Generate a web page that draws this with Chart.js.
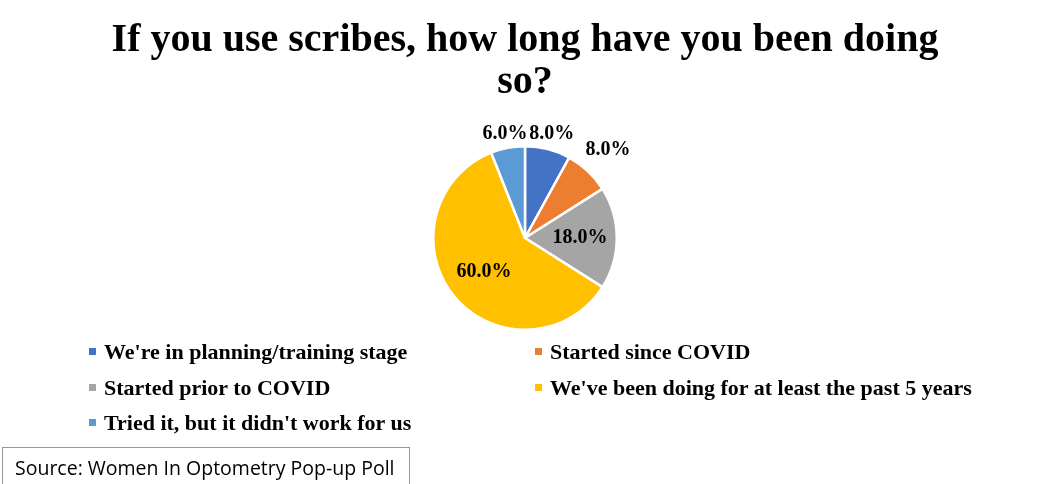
<!DOCTYPE html>
<html>
<head>
<meta charset="utf-8">
<script src="https://cdn.jsdelivr.net/npm/chart.js@4.4.1/dist/chart.umd.min.js"></script>
<style>
  html, body { margin: 0; padding: 0; background: #fff; }
  #wrap { position: relative; width: 1048px; height: 484px; overflow: hidden; }
  #legend { position: absolute; left: 0; top: 0; width: 1048px; height: 484px; pointer-events: none; }
  .item { position: absolute; font: bold 22px "Liberation Serif", "Times New Roman", serif; color: #000; white-space: nowrap; line-height: 24px; }
  .item i { position: absolute; left: -15px; top: 8px; width: 7px; height: 7px; }
  #source { position: absolute; left: 2px; top: 447px; width: 408px; height: 40px; border: 1px solid #999; box-sizing: border-box;
            font: 19.5px "Open Sans", sans-serif; padding-left: 12px; line-height: 40px; color: #000; }
</style>
</head>
<body>
<div id="wrap">
  <canvas id="pie" width="1048" height="484"></canvas>
  <div id="legend"></div>
  <div id="source">Source: Women In Optometry Pop-up Poll</div>
</div>
<script>
// chart data
const titleLines = ['If you use scribes, how long have you been doing', 'so?'];
const categories = [
    "We're in planning/training stage",
    'Started since COVID',
    'Started prior to COVID',
    "We've been doing for at least the past 5 years",
    "Tried it, but it didn't work for us"
];
const shares = [8.0, 8.0, 18.0, 60.0, 6.0];
const colors = ['#4472C4', '#ED7D31', '#A5A5A5', '#FFC000', '#5B9BD5'];

// where each percentage label sits, as a fraction of the radius
const labelRadius = [1.17, 1.32, 0.6, 0.58, 1.16];

// draws the percentage labels on/around the slices
const sliceLabels = {
    id: 'sliceLabels',
    afterDatasetsDraw(chart) {
        const ctx = chart.ctx;
        const meta = chart.getDatasetMeta(0);
        ctx.save();
        ctx.font = 'bold 20px "Liberation Serif", "Times New Roman", serif';
        ctx.fillStyle = '#000';
        ctx.textAlign = 'center';
        ctx.textBaseline = 'middle';
        meta.data.forEach((arc, i) => {
            const p = arc.getProps(['x', 'y', 'startAngle', 'endAngle', 'outerRadius'], true);
            const mid = (p.startAngle + p.endAngle) / 2;
            const r = p.outerRadius * labelRadius[i];
            const value = chart.data.datasets[0].data[i];
            ctx.fillText(value.toFixed(1) + '%', p.x + Math.cos(mid) * r, p.y + Math.sin(mid) * r);
        });
        ctx.restore();
    }
};

myChart = new Chart(document.getElementById('pie').getContext('2d'), {
    type: 'pie',
    data: {
        labels: categories,
        datasets: [{
            data: shares,
            backgroundColor: colors,
            borderColor: '#fff',
            borderWidth: 2.5
        }]
    },
    options: {
        responsive: false,
        animation: false,
        layout: { padding: { top: 0, bottom: 153, left: 2, right: 0 } },
        plugins: {
            legend: { display: false },
            tooltip: { enabled: false },
            title: {
                display: true,
                text: titleLines,
                color: '#000',
                font: { family: '"Liberation Serif", "Times New Roman", serif', size: 40, weight: 'bold', lineHeight: 1.05 },
                padding: { top: 20, bottom: 41 }
            }
        }
    },
    plugins: [sliceLabels]
});

// legend in two columns, built from the same arrays
const legendPos = [[104, 340], [550, 340], [104, 376], [550, 376], [104, 411]];
const legend = document.getElementById('legend');
categories.forEach((name, i) => {
    const el = document.createElement('div');
    el.className = 'item';
    el.style.left = legendPos[i][0] + 'px';
    el.style.top = legendPos[i][1] + 'px';
    el.innerHTML = '<i style="background:' + colors[i] + '"></i>';
    el.appendChild(document.createTextNode(name));
    legend.appendChild(el);
});
</script>
</body>
</html>
